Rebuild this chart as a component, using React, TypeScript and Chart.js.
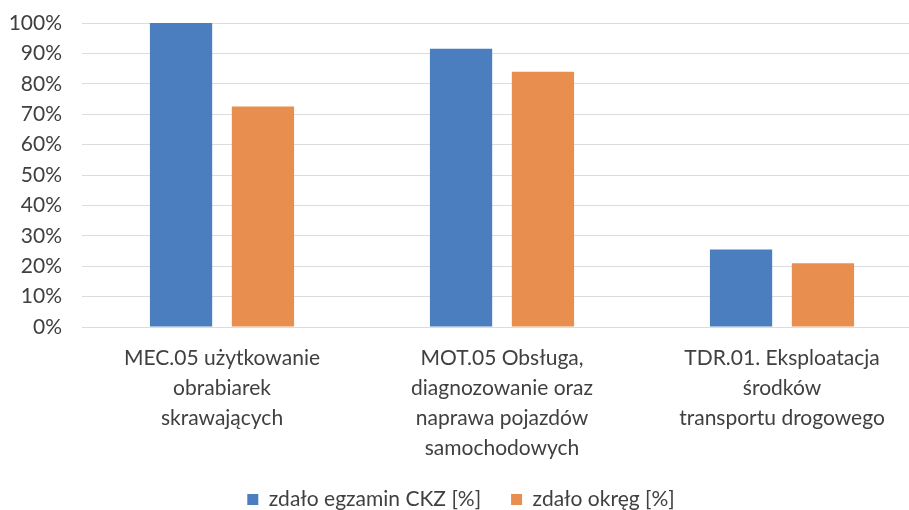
import React, { useEffect, useRef } from "react";
import { Chart, registerables } from "chart.js";

Chart.register(...registerables);

const categories: string[][] = [
  ["MEC.05 użytkowanie", "obrabiarek", "skrawających"],
  ["MOT.05 Obsługa,", "diagnozowanie oraz", "naprawa pojazdów", "samochodowych"],
  ["TDR.01. Eksploatacja", "środków", "transportu drogowego"],
];
const seriesNames = ["zdało egzamin CKZ [%]", "zdało okręg [%]"];
const ckzValues = [100, 91.5, 25.5];
const okregValues = [72.5, 84, 21];
const yTicks = [0, 10, 20, 30, 40, 50, 60, 70, 80, 90, 100];

const FONT = "Lato, 'Open Sans', sans-serif";

export default function App() {
  const ref = useRef<HTMLCanvasElement | null>(null);
  useEffect(() => {
    document.body.style.margin = "0";
    const ctx = ref.current!.getContext("2d")!;
    const chart = new Chart(ctx, {
      type: "bar",
      data: {
        labels: categories,
        datasets: [
          {
            label: seriesNames[0],
            data: ckzValues,
            backgroundColor: "#4a7ebf",
            categoryPercentage: 0.585,
            barPercentage: 0.76,
          },
          {
            label: seriesNames[1],
            data: okregValues,
            backgroundColor: "#e88f4f",
            categoryPercentage: 0.585,
            barPercentage: 0.76,
          },
        ],
      },
      options: {
        animation: false,
        responsive: false,
        maintainAspectRatio: false,
        layout: { padding: { top: 23, right: 0, left: 0, bottom: -10 } },
        plugins: {
          tooltip: { enabled: false },
          legend: {
            position: "bottom",
            labels: {
              boxWidth: 11,
              boxHeight: 11,
              padding: 30,
              color: "#404040",
              font: { family: FONT, size: 21 },
            },
          },
        },
        scales: {
          x: {
            grid: { display: false },
            border: { display: false },
            afterFit: (scale: any) => {
              scale.height = 132;
            },
            ticks: {
              color: "#404040",
              font: { family: FONT, size: 21, lineHeight: 1.43 },
              maxRotation: 0,
              autoSkip: false,
              padding: 8,
            },
          },
          y: {
            min: 0,
            max: 100,
            afterBuildTicks: (axis: any) => {
              axis.ticks = yTicks.map((v) => ({ value: v }));
            },
            afterFit: (scale: any) => {
              scale.width = 82;
              scale.paddingTop = 0;
              scale.paddingBottom = 0;
            },
            grid: { color: "#dcdcdc", lineWidth: 1, drawTicks: false },
            border: { display: false },
            ticks: {
              color: "#404040",
              font: { family: FONT, size: 21 },
              padding: 20,
              autoSkip: false,
              callback: (v: any) => `${v}%`,
            },
          },
        },
      },
    });
    return () => chart.destroy();
  }, []);
  return (
    <div style={{ width: 909, height: 510, background: "#fff", overflow: "hidden" }}>
      <canvas ref={ref} width={922} height={510} style={{ display: "block" }} />
    </div>
  );
}
